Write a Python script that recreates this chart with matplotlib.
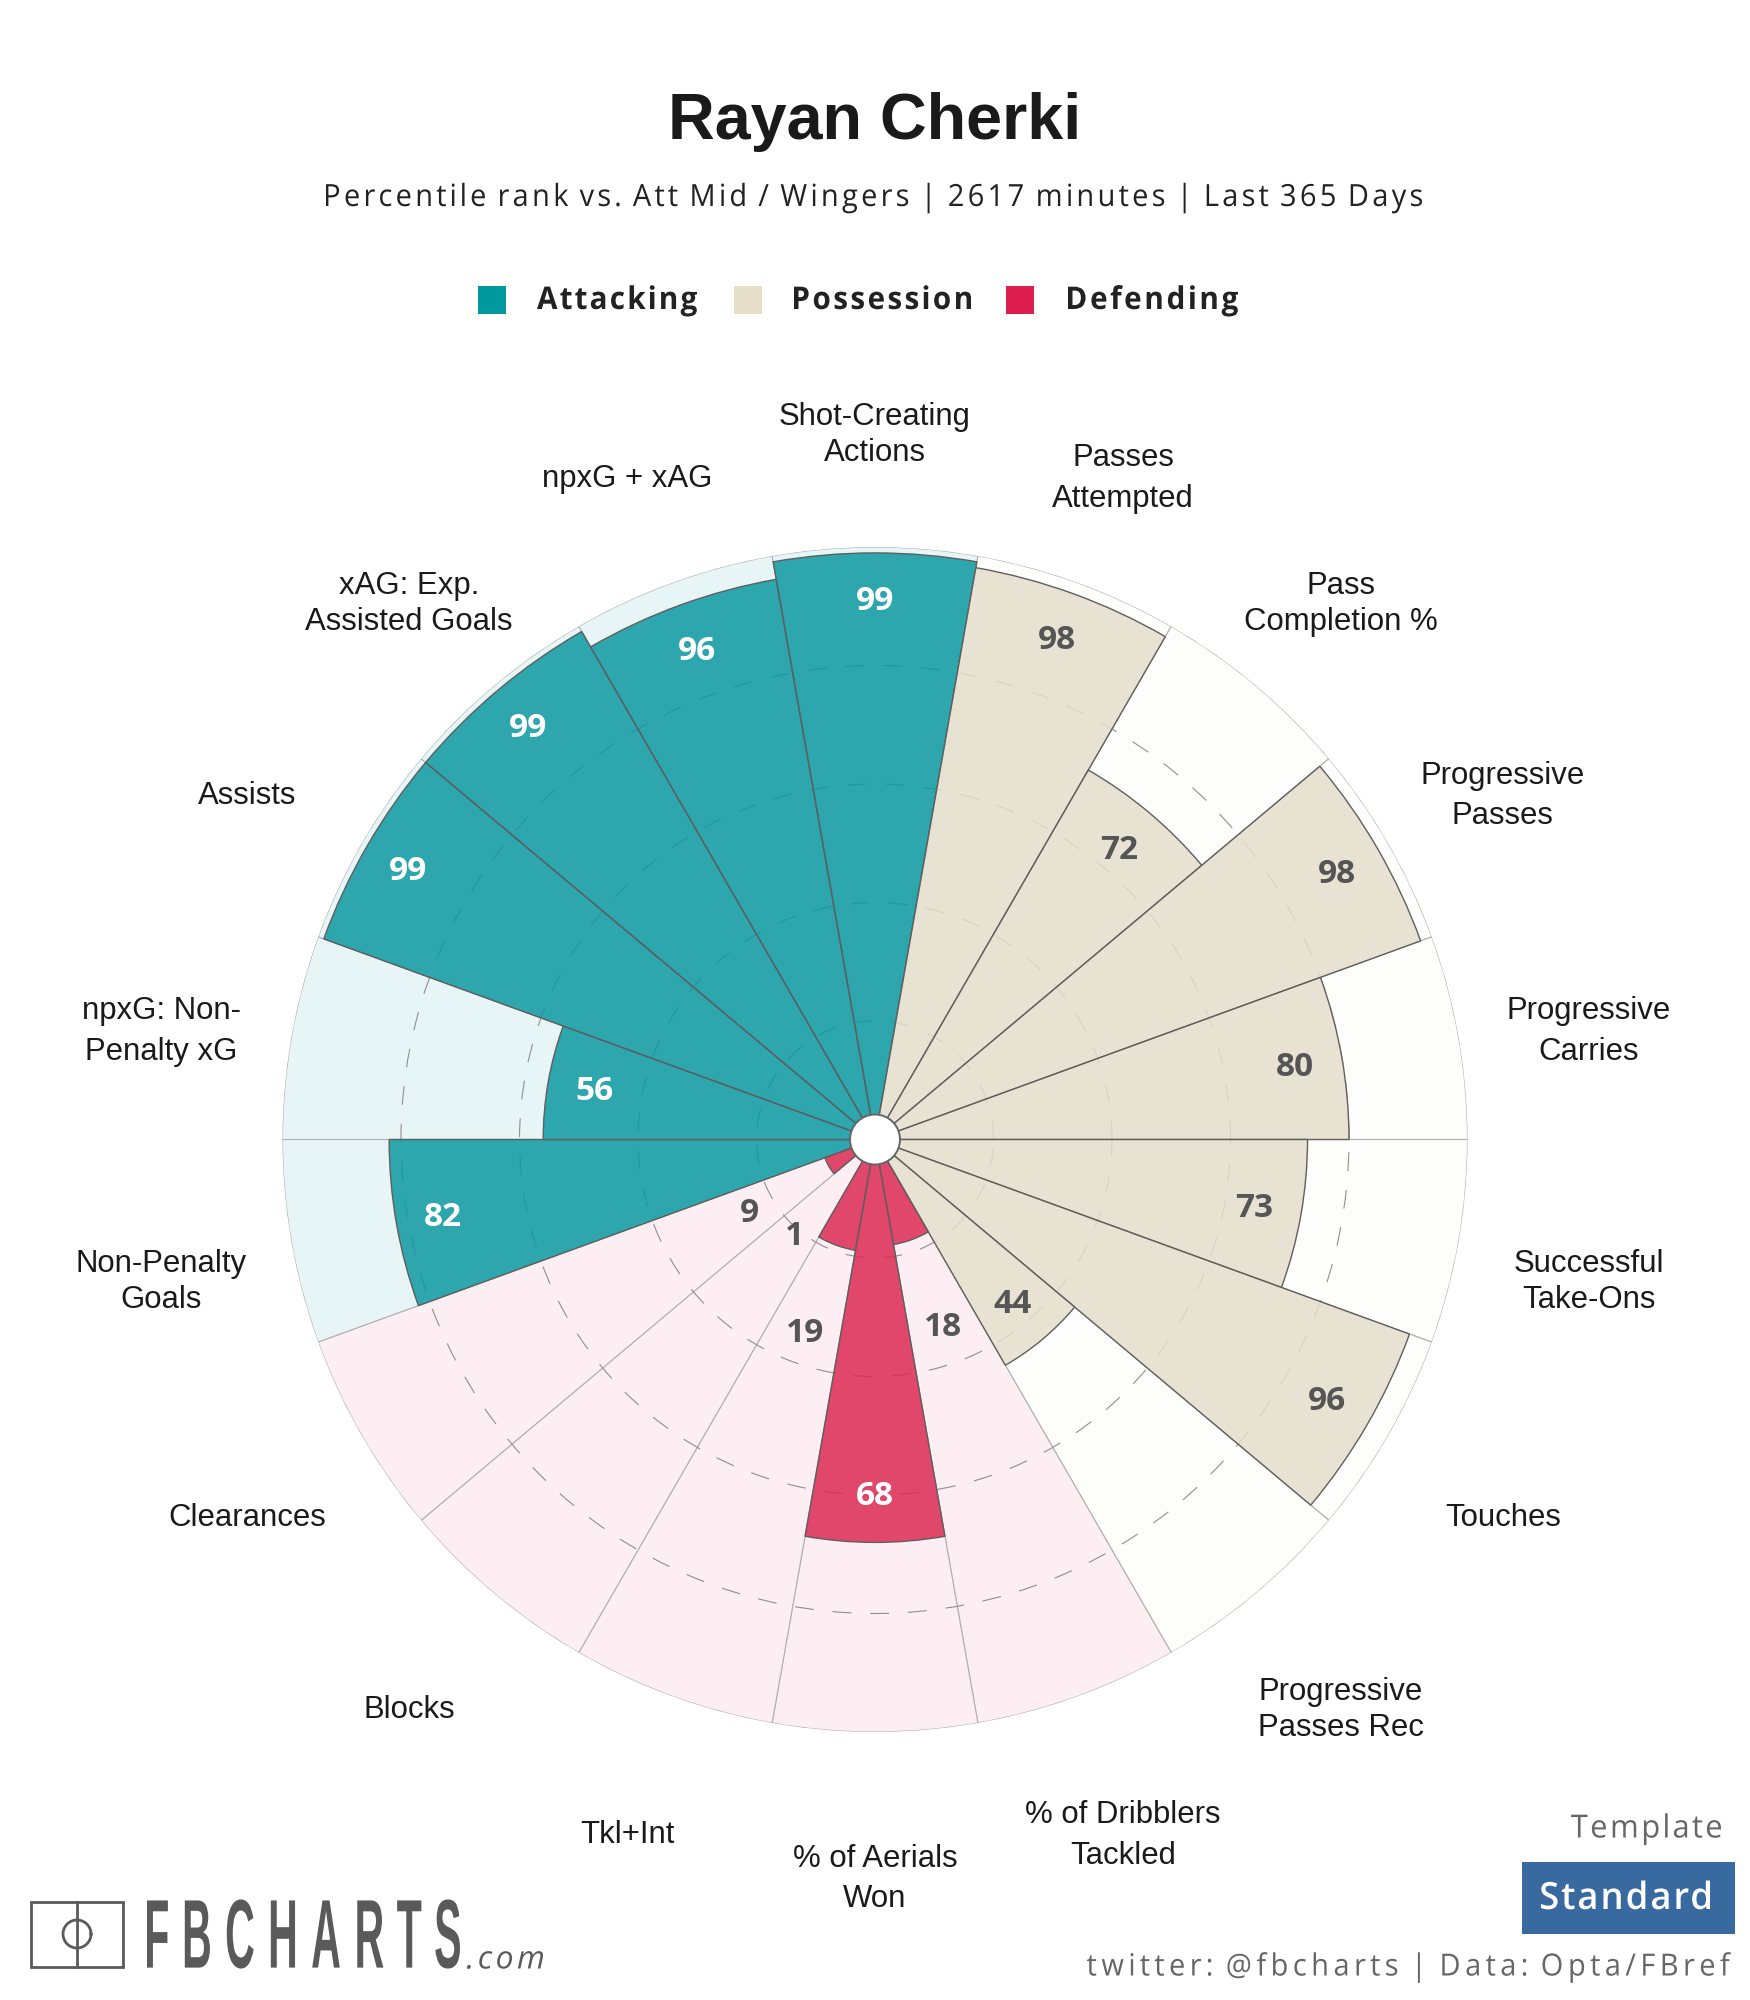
import numpy as np
import matplotlib
matplotlib.use("Agg")
import matplotlib.pyplot as plt
from matplotlib.colors import to_rgba
from matplotlib.patches import Rectangle, Circle
from matplotlib.path import Path
from matplotlib.patheffects import AbstractPathEffect
from matplotlib.transforms import IdentityTransform

W, H = 1750, 2000

title = "Rayan Cherki"
subtitle = "Percentile rank vs. Att Mid / Wingers | 2617 minutes | Last 365 Days"
groups = ["Attacking", "Possession", "Defending"]
group_colors = ["#009A9E", "#E5DEC8", "#DC1F4F"]
bar_colors = ["#0D98A1", "#E4DECB", "#DD2853"]
back_colors = ["#E8F5F6", "#FDFDFB", "#FCEEF2"]

categories = [
    "Non-Penalty\nGoals", "npxG: Non-\nPenalty xG", "Assists", "xAG: Exp.\nAssisted Goals",
    "npxG + xAG", "Shot-Creating\nActions", "Passes\nAttempted", "Pass\nCompletion %",
    "Progressive\nPasses", "Progressive\nCarries", "Successful\nTake-Ons", "Touches",
    "Progressive\nPasses Rec", "% of Dribblers\nTackled", "% of Aerials\nWon", "Tkl+Int",
    "Blocks", "Clearances",
]
values = [82, 56, 99, 99, 96, 99, 98, 72, 98, 80, 73, 96, 44, 18, 68, 19, 1, 9]
category_group = [0, 0, 0, 0, 0, 0, 1, 1, 1, 1, 1, 1, 1, 2, 2, 2, 2, 2]
rings = [20, 40, 60, 80]
wide_leading = {"npxG: Non-\nPenalty xG", "Passes\nAttempted", "Progressive\nPasses",
                "Progressive\nCarries", "% of Dribblers\nTackled", "% of Aerials\nWon"}


class Tracked(AbstractPathEffect):
    """Letter-spacing: lays the glyphs of a text out from `left` over `width` display pixels."""

    def __init__(self, left, width, gx=1.0, gy=1.0, yc=None):
        super().__init__()
        self.left, self.width, self.gx, self.gy, self.yc = left, width, gx, gy, yc

    def draw_path(self, renderer, gc, tpath, affine, rgbFace=None):
        p = affine.transform_path(tpath)
        v = np.array(p.vertices, dtype=float)
        c = np.asarray(p.codes)
        real = c != Path.CLOSEPOLY
        starts = list(np.flatnonzero(c == Path.MOVETO)) + [len(c)]
        glyphs = []
        for a, b in zip(starts[:-1], starts[1:]):
            m = np.arange(a, b)
            m_real = m[real[a:b]]
            x0, x1 = v[m_real, 0].min(), v[m_real, 0].max()
            if glyphs and x0 < glyphs[-1][2] - 0.3:
                glyphs[-1][0].append(m)
                glyphs[-1][2] = max(glyphs[-1][2], x1)
                glyphs[-1][1] = min(glyphs[-1][1], x0)
            else:
                glyphs.append([[m], x0, x1])
        for g in glyphs:
            xc = (g[1] + g[2]) / 2
            for m in g[0]:
                v[m, 0] = xc + (v[m, 0] - xc) * self.gx
        if self.yc is not None:
            ys = v[real, 1]
            yc = (ys.min() + ys.max()) / 2
            v[:, 1] = H - self.yc + (v[:, 1] - yc) * self.gy
        natural = v[real, 0].max() - v[real, 0].min()
        ls = (self.width - natural) / max(len(glyphs) - 1, 1)
        x_start = v[real, 0].min()
        for i, g in enumerate(glyphs):
            for m in g[0]:
                v[m, 0] += i * ls
        v[:, 0] += self.left - x_start
        renderer.draw_path(gc, Path(v, c), IdentityTransform(), rgbFace)


fig = plt.figure(figsize=(W / 100, H / 100), dpi=100, facecolor="white")


def ptext(x, y, s, ha="center", **kw):
    return fig.text(x / W, 1 - y / H, s, ha=ha, va="center", **kw)


def ttext(left, width, y, s, gx=1.0, gy=1.0, yc=None, **kw):
    """Tracked text: natural text placed at left edge, spaced out over width pixels."""
    t = ptext(left + width / 2, y, s, **kw)
    t.set_path_effects([Tracked(left, width, gx, gy, yc)])
    return t


cx, cy, R = 875, 1139.5, 592.5
ax = fig.add_axes([(cx - R) / W, 1 - (cy + R) / H, 2 * R / W, 2 * R / H], projection="polar")
ax.set_facecolor("none")
ax.set_ylim(0, 100)
ax.spines["polar"].set_visible(False)
ax.set_xticks([])
ax.set_yticks(rings)
ax.set_yticklabels([])
ax.set_axisbelow("line")
ax.grid(True, axis="y", color="#8f8f8f", lw=0.8, dashes=(17, 17))

n = len(values)
step = 2 * np.pi / n
theta = np.deg2rad(190) - step * np.arange(n)

ax.bar(theta, [100] * n, width=step, bottom=0,
       color=[back_colors[g] for g in category_group],
       edgecolor="#b0b0b0", linewidth=0.8, zorder=1)
ax.bar(theta, values, width=step, bottom=0,
       color=[to_rgba(bar_colors[g], 0.85) for g in category_group],
       edgecolor="#5f5f5f", linewidth=1.0, zorder=2)

for th, v, g, c in zip(theta, values, category_group, categories):
    r = v - 8 if v >= 25 else max(v + 15.5, 21)
    col = "white" if (g == 0 or (g == 2 and v >= 25)) else "#555555"
    ax.annotate(str(v), (th, r), xytext=(0, -1.2), textcoords="offset points",
                ha="center", va="center", color=col, fontsize=24,
                family="Open Sans", weight="bold", zorder=6)
    px = cx + 725 * np.cos(th)
    py = cy + 17.5 - 722 * np.sin(th)
    ptext(px, py, c, color="#1a1a1a", fontsize=22.4, family="Liberation Sans",
          linespacing=1.45 if c in wide_leading else 1.27)

ax.add_patch(Circle((0.5, 0.5), 25 / (2 * R), transform=ax.transAxes, facecolor="white",
                    edgecolor="#666666", linewidth=1.4, zorder=7))

# header
ptext(875, 122, title, color="#1a1a1a", fontsize=46.5, family="Liberation Sans", weight="bold")
ttext(326, 1096, 198, subtitle, gx=0.95, color="#222222", fontsize=22, family="Open Sans")

# legend
sq = [478, 734, 1006]
lab = [(537, 160), (794, 177), (1068, 170)]
for x, (tx, tw), name, col in zip(sq, lab, groups, group_colors):
    fig.add_artist(Rectangle((x / W, 1 - 314 / H), 28 / W, 28 / H, color=col, transform=fig.transFigure, lw=0))
    ttext(tx, tw, 301, name, gx=0.95, color="#222222", fontsize=22.5, family="Open Sans", weight="bold")

# template and footer
ttext(1571, 150, 1829, "Template", gx=0.97, color="#666666", fontsize=23, family="Open Sans")
fig.add_artist(Rectangle((1522 / W, 1 - 1934 / H), 213 / W, 72 / H, color="#38699F", transform=fig.transFigure, lw=0))
ttext(1541, 169, 1899, "Standard", gx=0.97, color="white", fontsize=27, family="Open Sans", weight="semibold")
ttext(1087, 644, 1967, "twitter: @fbcharts | Data: Opta/FBref", gx=0.95, color="#666666", fontsize=22, family="Open Sans")

# logo
lc = "#5a5a5a"
fig.add_artist(Rectangle((31 / W, 1 - 1967 / H), 92 / W, 65 / H, fill=False, edgecolor=lc, lw=2, transform=fig.transFigure))
fig.add_artist(plt.Line2D([77 / W, 77 / W], [1 - 1902 / H, 1 - 1967 / H], color=lc, lw=2, transform=fig.transFigure))
fig.add_artist(plt.Line2D(77 / W + 14 / W * np.cos(np.linspace(0, 6.3, 60)),
                          1 - 1934 / H + 14 / H * np.sin(np.linspace(0, 6.3, 60)),
                          color=lc, lw=2, transform=fig.transFigure))
ttext(147, 313, 1934, "FBCHARTS", gx=0.78, gy=1.85, yc=1934, color=lc, fontsize=38, family="Liberation Sans", weight="bold")
ttext(467, 76, 1960, ".com", gx=1.0, color=lc, fontsize=23, family="Open Sans", style="italic")

fig.savefig("out.png", dpi=100, facecolor="white")
